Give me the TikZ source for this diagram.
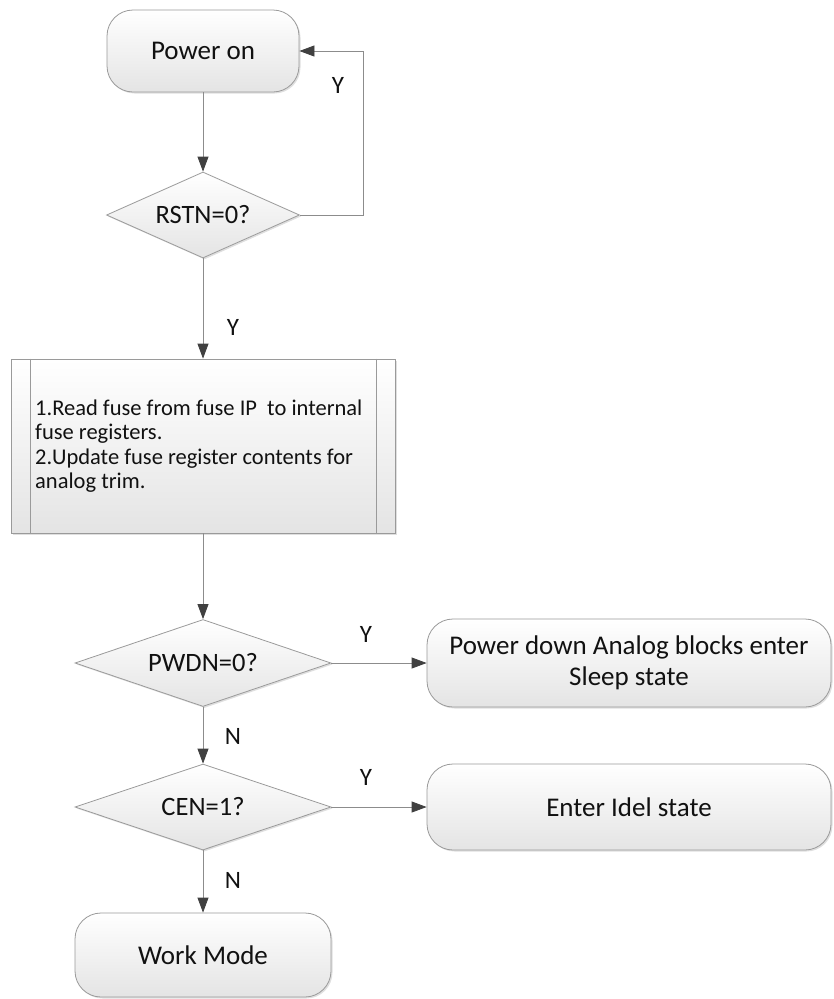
\documentclass[tikz,border=0pt]{standalone}
\usepackage{fontspec}
\setmainfont{Carlito}
\usetikzlibrary{arrows.meta,shapes.geometric,shadows}
\definecolor{linegray}{HTML}{8C8C8C}
\definecolor{edgegray}{HTML}{9A9A9A}
\definecolor{tipgray}{HTML}{404040}
\definecolor{boxbot}{HTML}{E4E4E4}
\definecolor{txt}{HTML}{111111}
\begin{document}
\begin{tikzpicture}[x=1pt,y=-1pt,
  fillgrad/.style={draw=edgegray, line width=0.8pt, top color=white, bottom color=boxbot,
    drop shadow={shadow xshift=1.5pt, shadow yshift=-1.5pt, opacity=0.25}},
  term/.style={fillgrad, rounded corners=26pt, align=center, inner sep=0pt,
    text=txt, font=\fontsize{27}{31}\selectfont},
  dec/.style={fillgrad, diamond, aspect=3, inner sep=0pt, text=txt,
    font=\fontsize{26.5}{31}\selectfont},
  proc/.style={fillgrad, rectangle, inner sep=0pt},
  boxtxt/.style={align=left, inner sep=0pt, text=txt,
    font=\fontsize{22.5}{24.5}\selectfont},
  lbl/.style={inner sep=0pt, text=txt, font=\fontsize{25}{28}\selectfont},
  arr/.style={draw=linegray, line width=0.8pt,
    -{Triangle[length=15pt,width=11pt,color=tipgray]}},
  frame/.style={draw=edgegray, line width=0.8pt}
]
\useasboundingbox (0,0) rectangle (833,999);

\node[term, minimum width=192pt, minimum height=82pt] (pon) at (203,51) {Power on};
\node[dec, minimum width=193pt, minimum height=86pt] (rstn) at (203,215) {RSTN=0?};
\node[proc, minimum width=384pt, minimum height=174pt] (fuse) at (203,446) {};
\draw[frame] ([xshift=20pt]fuse.north west) -- ([xshift=20pt]fuse.south west);
\draw[frame] ([xshift=-19pt]fuse.north east) -- ([xshift=-19pt]fuse.south east);
\node[boxtxt, anchor=west] (fusetxt) at (35,446) {1.Read fuse from fuse IP\ \ to internal\\fuse registers.\\2.Update fuse register contents for\\analog trim.};
\node[dec, minimum width=256pt, minimum height=87pt] (pwdn) at (203,663) {PWDN=0?};
\node[term, minimum width=404pt, minimum height=88pt] (sleep) at (629,663) {Power down Analog blocks enter\\Sleep state};
\node[dec, minimum width=256pt, minimum height=86pt] (cen) at (203,807) {CEN=1?};
\node[term, minimum width=404pt, minimum height=86pt] (idle) at (629,807) {Enter Idel state};
\node[term, minimum width=256pt, minimum height=84pt] (work) at (203,955) {Work Mode};

\coordinate (loop) at (363,0);

\draw[arr] (pon) -- (rstn);
\draw[arr] (rstn.east) -- (rstn.east -| loop) |- (pon.east);
\draw[arr] (rstn) -- (fuse);
\draw[arr] (fuse) -- (pwdn);
\draw[arr] (pwdn) -- (sleep);
\draw[arr] (pwdn) -- (cen);
\draw[arr] (cen) -- (idle);
\draw[arr] (cen) -- (work);

\node[lbl] (ly1) at (338,85) {Y};
\node[lbl] (ly2) at (233,327) {Y};
\node[lbl] (ly3) at (366,634) {Y};
\node[lbl] (ln1) at (233,736) {N};
\node[lbl] (ly4) at (366,777) {Y};
\node[lbl] (ln2) at (233,880) {N};
\end{tikzpicture}
\end{document}
